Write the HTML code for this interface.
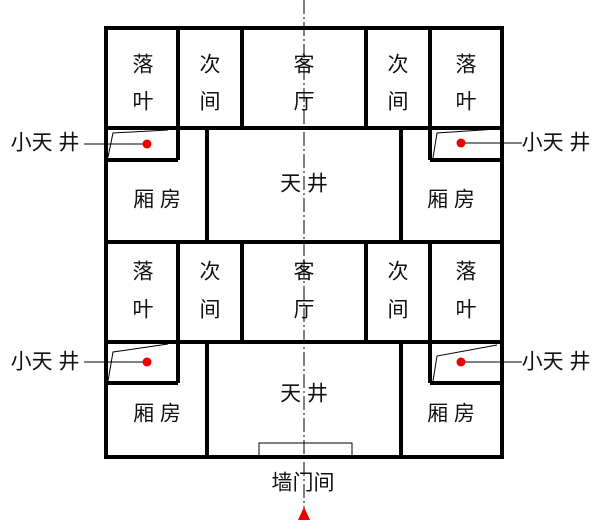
<!DOCTYPE html>
<html><head><meta charset="utf-8"><style>
body{margin:0;background:#fff}
svg text{font-family:"Liberation Sans","Noto Sans CJK SC",sans-serif;font-size:21px;fill:#111;text-anchor:middle;dominant-baseline:central}
</style></head><body>
<svg width="600" height="527" viewBox="0 0 600 527" xmlns="http://www.w3.org/2000/svg">
<g stroke="#000" stroke-width="4" fill="none">
<rect x="106" y="28" width="396" height="429"/>
<line x1="106" y1="128" x2="502" y2="128"/>
<line x1="106" y1="242" x2="502" y2="242"/>
<line x1="106" y1="342" x2="502" y2="342"/>
<line x1="178" y1="28" x2="178" y2="160"/>
<line x1="242" y1="28" x2="242" y2="128"/>
<line x1="366" y1="28" x2="366" y2="128"/>
<line x1="430" y1="28" x2="430" y2="160"/>
<line x1="106" y1="160" x2="178" y2="160"/>
<line x1="430" y1="160" x2="502" y2="160"/>
<line x1="207" y1="128" x2="207" y2="242"/>
<line x1="401" y1="128" x2="401" y2="242"/>
<line x1="178" y1="242" x2="178" y2="383"/>
<line x1="242" y1="242" x2="242" y2="342"/>
<line x1="366" y1="242" x2="366" y2="342"/>
<line x1="430" y1="242" x2="430" y2="383"/>
<line x1="106" y1="383" x2="178" y2="383"/>
<line x1="430" y1="383" x2="502" y2="383"/>
<line x1="207" y1="342" x2="207" y2="457"/>
<line x1="401" y1="342" x2="401" y2="457"/>
</g>
<g stroke="#000" stroke-width="1" fill="none">
<rect x="259" y="443" width="93" height="14"/>
<polyline points="108,157 113,133 168,130"/>
<polyline points="433,158 437,133 497,129"/>
<polyline points="108,381 113,352 168,344"/>
<polyline points="433,381 437,356 497,345"/>
<line x1="84" y1="144" x2="147" y2="144"/>
<line x1="461" y1="143" x2="522" y2="143"/>
<line x1="84" y1="362" x2="147" y2="362"/>
<line x1="461" y1="362" x2="522" y2="362"/>
<line x1="304" y1="0" x2="304" y2="512" stroke-dasharray="14,3,2,3"/>
</g>
<g fill="#e00">
<circle cx="147" cy="144" r="4.5"/><circle cx="461" cy="143" r="4.5"/>
<circle cx="147" cy="362" r="4.5"/><circle cx="461" cy="362" r="4.5"/>
<polygon points="304,507 298,520 310,520"/>
</g>
<text x="143" y="65">落</text><text x="143" y="102">叶</text>
<text x="210" y="65">次</text><text x="210" y="102">间</text>
<text x="304" y="65">客</text><text x="304" y="102">厅</text>
<text x="398" y="65">次</text><text x="398" y="102">间</text>
<text x="466" y="65">落</text><text x="466" y="102">叶</text>
<text x="304" y="184">天 井</text>
<text x="157" y="200">厢 房</text><text x="451" y="200">厢 房</text>
<text x="143" y="272">落</text><text x="143" y="310">叶</text>
<text x="210" y="272">次</text><text x="210" y="310">间</text>
<text x="304" y="272">客</text><text x="304" y="310">厅</text>
<text x="398" y="272">次</text><text x="398" y="310">间</text>
<text x="466" y="272">落</text><text x="466" y="310">叶</text>
<text x="304" y="394">天 井</text>
<text x="157" y="414">厢 房</text><text x="451" y="414">厢 房</text>
<text x="45" y="143">小天 井</text><text x="556" y="143">小天 井</text>
<text x="45" y="362">小天 井</text><text x="556" y="362">小天 井</text>
<text x="303" y="483">墙门间</text>
</svg>
</body></html>
